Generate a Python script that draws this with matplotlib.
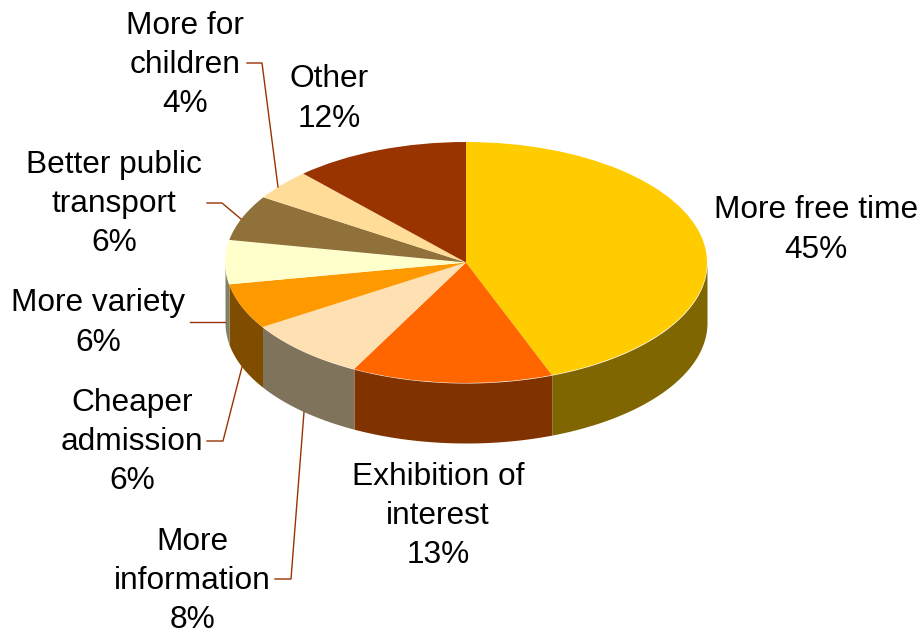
#!/usr/bin/env python3
import numpy as np
import matplotlib
matplotlib.use("Agg")
import matplotlib.pyplot as plt

plt.rcParams["font.family"] = ["Liberation Sans", "DejaVu Sans"]

# ========================================================================
# Data
# ========================================================================
names = [
    "More free time",
    "Exhibition of\ninterest",
    "More\ninformation",
    "Cheaper\nadmission",
    "More variety",
    "Better public\ntransport",
    "More for\nchildren",
    "Other",
]
percents = [45, 13, 8, 6, 6, 6, 4, 12]
sizes = [44.2, 13.5, 8.3, 6.1, 5.9, 6.1, 4.1, 11.8]
top_colors = [
    "#FFCC00",
    "#FF6600",
    "#FFE0B3",
    "#FF9900",
    "#FFFFCC",
    "#907139",
    "#FFDD99",
    "#993300",
]
side_colors = [
    "#806600",
    "#803300",
    "#80735C",
    "#804C00",
    "#808066",
    "#48391D",
    "#806F4D",
    "#4D1A00",
]

W, H = 922, 634
cx, cy, rx, ry, depth = 466, 262.5, 241, 120.5, 60

fig = plt.figure(figsize=(W / 100, H / 100), dpi=100)

# Pie axes: one unit is rx across and ry down, so the circle becomes an ellipse
ax = fig.add_axes([0, 0, 1, 1])
ax.pie(
    sizes,
    colors=top_colors,
    startangle=90,
    counterclock=False,
    radius=1,
    wedgeprops={"linewidth": 0, "zorder": 3},
)
ax.set_aspect("auto")
ax.set_box_aspect(None)
ax.set_xlim(-cx / rx, (W - cx) / rx)
ax.set_ylim(-(H - cy) / ry, cy / ry)

# Side wall, only the front half of the rim shows
edges = np.concatenate([[0], np.cumsum(sizes)]) * 360 / np.sum(sizes)
d = depth / ry
for k, color in enumerate(side_colors):
    a0, a1 = max(edges[k], 90), min(edges[k + 1], 270)
    if a1 <= a0:
        continue
    t = np.radians(np.linspace(a0, a1, 80))
    ax.fill_between(
        np.sin(t), np.cos(t), np.cos(t) - d, color=color, lw=0, zorder=2
    )

# Overlay in pixel coordinates for labels and leader lines
ov = fig.add_axes([0, 0, 1, 1], facecolor="none")
ov.set_xlim(0, W)
ov.set_ylim(H, 0)
ov.axis("off")

label_pos = [
    (816, 230),
    (438, 516),
    (192, 581),
    (132, 442),
    (98, 323),
    (114, 204),
    (185, 65),
    (329, 99),
]
for name, pct, (x, y) in zip(names, percents, label_pos):
    ov.text(
        x,
        y,
        f"{name}\n{pct}%",
        ha="center",
        va="center",
        fontsize=22.8,
        linespacing=1.4,
        color="black",
    )

leaders = [
    ([247, 262, 278], [63, 63, 187]),
    ([207, 222, 241], [203, 203, 219]),
    ([190, 225], [322, 322]),
    ([207, 223, 242], [441, 441, 367]),
    ([275, 291, 304], [579, 579, 412]),
]
for xs, ys in leaders:
    ov.plot(xs, ys, color="#993300", lw=1)

fig.savefig("out.png", dpi=100)
